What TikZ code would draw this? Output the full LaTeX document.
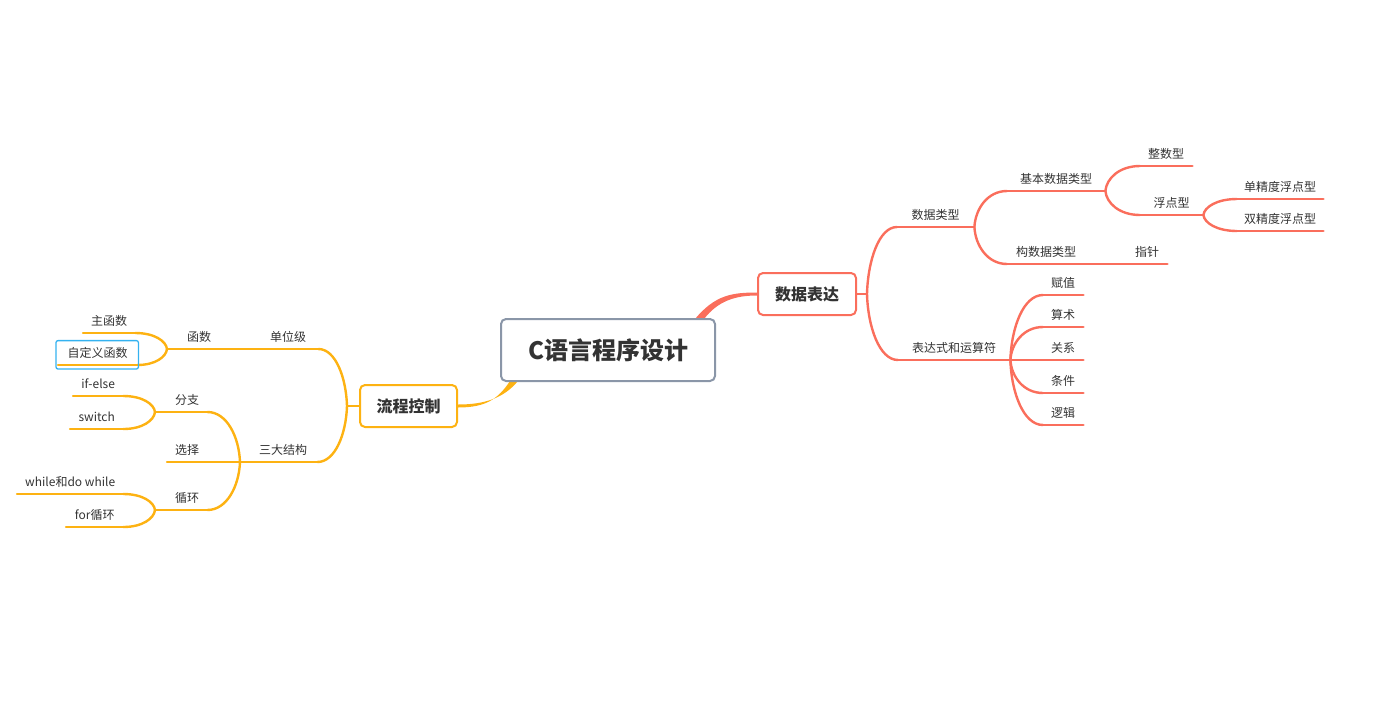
\documentclass[tikz,border=0pt]{standalone}
\usepackage{fontspec}
\setmainfont{Noto Sans CJK SC}
\usetikzlibrary{calc,backgrounds}
\definecolor{salm}{RGB}{250,110,92}
\definecolor{orng}{RGB}{253,178,18}
\definecolor{rootc}{RGB}{138,150,168}
\definecolor{hlc}{RGB}{52,178,240}
\definecolor{txt}{RGB}{51,51,51}
\newcommand\mmcurve[3]{\draw[#1] let \p1=(#2), \p2=(#3) in (\p1) .. controls ({\x1+0.03*(\x2-\x1)},{\y1+0.5*(\y2-\y1)}) and ({\x1+0.4*(\x2-\x1)},\y2) .. (\p2);}
\begin{document}
\begin{tikzpicture}[x=1pt,y=-1pt,
  topic/.style={inner sep=0pt, minimum height=24pt, anchor=south west, text=txt,
    text height=9.6pt, text depth=1.2pt, font=\fontsize{12}{14}\selectfont},
  conR/.style={draw=salm, line width=2.4pt, line cap=round},
  conO/.style={draw=orng, line width=2.4pt, line cap=round},
  mainbox/.style={fill=white, line width=2pt, rounded corners=5pt, inner sep=0pt,
    text=txt, font=\fontsize{16}{19}\selectfont\bfseries, minimum height=42pt}
]
\useasboundingbox (0,0) rectangle (1381,721);

% main boxes
\node[mainbox, draw=rootc, minimum width=214pt, minimum height=62pt,
  font=\fontsize{24}{29}\selectfont\bfseries] (root) at (608,350) {C语言程序设计};
\node[mainbox, draw=salm, minimum width=98pt] (data) at (807,294) {数据表达};
\node[mainbox, draw=orng, minimum width=97pt] (flow) at (408.5,406) {流程控制};

% right topics
\node[topic, minimum width=77pt] (dtype) at (897,227) {数据类型};
\node[topic, minimum width=112pt] (expr) at (898,360) {表达式和运算符};
\node[topic, minimum width=98pt] (basic) at (1007,191) {基本数据类型};
\node[topic, minimum width=78pt] (strct) at (1007,264) {构数据类型};
\node[topic, minimum width=40pt] (ptr) at (1127,264) {指针};
\node[topic, minimum width=52pt] (int) at (1140,166) {整数型};
\node[topic, minimum width=63pt] (flt) at (1140,215) {浮点型};
\node[topic, minimum width=86pt] (single) at (1237,199) {单精度浮点型};
\node[topic, minimum width=86pt] (double) at (1237,231) {双精度浮点型};
\node[topic, minimum width=40pt] (assign) at (1043,295) {赋值};
\node[topic, minimum width=40pt] (arith) at (1043,327) {算术};
\node[topic, minimum width=40pt] (rel) at (1043,360) {关系};
\node[topic, minimum width=40pt] (cond) at (1043,393) {条件};
\node[topic, minimum width=40pt] (logic) at (1043,425) {逻辑};

% left topics
\node[topic, minimum width=60pt] (unit) at (258,349) {单位级};
\node[topic, minimum width=64pt] (func) at (167,349) {函数};
\node[topic, minimum width=68pt] (three) at (249,462) {三大结构};
\node[topic, minimum width=40pt] (branch) at (167,412) {分支};
\node[topic, minimum width=40pt] (select) at (167,462) {选择};
\node[topic, minimum width=40pt] (loop) at (167,510) {循环};
\node[topic, minimum width=52pt] (mainf) at (83,333) {主函数};
\node[topic, minimum width=79pt] (custom) at (58,365) {自定义函数};
\node[topic, minimum width=50pt] (ifelse) at (73,396) {if-else};
\node[topic, minimum width=53pt] (switch) at (70,429) {switch};
\node[topic, minimum width=106pt] (while) at (17,494) {while和do while};
\node[topic, minimum width=57pt] (for) at (66,527) {for循环};

\draw[hlc, line width=1.3pt, rounded corners=2pt]
  ($(custom.north west)+(-2,0)$) rectangle ($(custom.south east)+(1,4)$);

\begin{scope}[on background layer]
% main tapered connectors
\fill[salm] ($(root.north east)+(-21,1)$) .. controls +(20,-24) and +(-25,0) .. ($(data.west)+(0,-1.5)$)
  -- ($(data.west)+(0,1.5)$) .. controls +(-22,0) and +(14,-18) .. ($(root.north east)+(-12,1)$) -- cycle;
\fill[orng] ($(root.south west)+(18,-1)$) .. controls +(-15,18) and +(25,0) .. ($(flow.east)+(0,-1.5)$)
  -- ($(flow.east)+(0,1.5)$) .. controls +(28,0) and +(-12,18) .. ($(root.south west)+(10,-1)$) -- cycle;

% underlines
\foreach \k in {dtype,expr,basic,strct,ptr,int,flt,single,double,assign,arith,rel,cond,logic}
  \draw[conR] (\k.south west) -- (\k.south east);
\foreach \k in {unit,func,three,branch,select,loop,mainf,custom,ifelse,switch,while,for}
  \draw[conO] (\k.south west) -- (\k.south east);

% right connectors
\coordinate (dB) at ($(data.east)+(10,0)$);
\draw[conR] (data.east) -- (dB);
\mmcurve{conR}{dB}{dtype.south west}
\mmcurve{conR}{dB}{expr.south west}
\mmcurve{conR}{dtype.south east}{basic.south west}
\mmcurve{conR}{dtype.south east}{strct.south west}
\draw[conR] (strct.south east) -- (ptr.south west);
\mmcurve{conR}{basic.south east}{int.south west}
\mmcurve{conR}{basic.south east}{flt.south west}
\mmcurve{conR}{flt.south east}{single.south west}
\mmcurve{conR}{flt.south east}{double.south west}
\mmcurve{conR}{expr.south east}{assign.south west}
\mmcurve{conR}{expr.south east}{arith.south west}
\mmcurve{conR}{expr.south east}{cond.south west}
\mmcurve{conR}{expr.south east}{logic.south west}
\draw[conR] (expr.south east) -- (rel.south west);

% left connectors
\coordinate (fB) at ($(flow.west)+(-12,0)$);
\draw[conO] (flow.west) -- (fB);
\mmcurve{conO}{fB}{unit.south east}
\mmcurve{conO}{fB}{three.south east}
\draw[conO] (unit.south west) -- (func.south east);
\mmcurve{conO}{func.south west}{mainf.south east}
\mmcurve{conO}{func.south west}{custom.south east}
\coordinate (tB) at ($(three.south west)+(-9,0)$);
\draw[conO] (three.south west) -- (tB);
\draw[conO] (tB) -- (select.south east);
\mmcurve{conO}{tB}{branch.south east}
\mmcurve{conO}{tB}{loop.south east}
\coordinate (bB) at ($(branch.south west)+(-12,0)$);
\draw[conO] (branch.south west) -- (bB);
\mmcurve{conO}{bB}{ifelse.south east}
\mmcurve{conO}{bB}{switch.south east}
\coordinate (lB) at ($(loop.south west)+(-12,0)$);
\draw[conO] (loop.south west) -- (lB);
\mmcurve{conO}{lB}{while.south east}
\mmcurve{conO}{lB}{for.south east}
\end{scope}
\end{tikzpicture}
\end{document}
